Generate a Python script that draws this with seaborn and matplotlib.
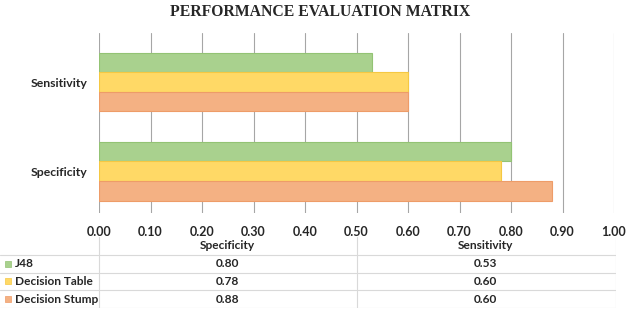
import matplotlib
matplotlib.use('Agg')
import matplotlib.pyplot as plt
import seaborn as sns
import pandas as pd
import numpy as np

metrics = ['Specificity', 'Sensitivity']
models = ['J48', 'Decision Table', 'Decision Stump']
j48 = [0.80, 0.53]
decision_table = [0.78, 0.60]
decision_stump = [0.88, 0.60]
colors = ['#A9D18E', '#FFD966', '#F4B183']
edge_colors = ['#93C374', '#F5C842', '#EE9C68']
x_ticks = [0.0, 0.1, 0.2, 0.3, 0.4, 0.5, 0.6, 0.7, 0.8, 0.9, 1.0]

values = {'J48': j48, 'Decision Table': decision_table, 'Decision Stump': decision_stump}
rows = []
for m in models:
    for k, metric in enumerate(metrics):
        rows.append({'metric': metric, 'model': m, 'value': values[m][k]})
df = pd.DataFrame(rows)

sns.set_style('white')
plt.rcParams['font.family'] = ['Lato', 'DejaVu Sans']

fig = plt.figure(figsize=(6.27, 3.09), dpi=100)
ax = fig.add_axes([99 / 627, 1 - 213 / 309, 515 / 627, 180 / 309])

sns.barplot(data=df, y='metric', x='value', hue='model', order=metrics[::-1],
            hue_order=models, palette=colors, width=0.66, orient='h', ax=ax,
            legend=False, saturation=1, zorder=3)
for i, cont in enumerate(ax.containers):
    for bar in cont:
        bar.set_edgecolor(edge_colors[i])
        bar.set_linewidth(0.8)

ax.set_xlim(0, 1.0)
ax.set_ylim(1.47, -0.55)
ax.set_xticks(x_ticks)
ax.set_xticklabels([f'{t:.2f}' for t in x_ticks], fontsize=9, fontweight='bold')
ax.tick_params(axis='x', length=0, pad=9)
ax.tick_params(axis='y', length=0, pad=8, labelsize=8.8)
for lab in ax.get_yticklabels():
    lab.set_fontweight('bold')
ax.set_xlabel('')
ax.set_ylabel('')
ax.grid(axis='x', color='#A6A6A6', linewidth=0.8, zorder=0)
for s in ax.spines.values():
    s.set_visible(False)

fig.text(320 / 627, 1 - 12 / 309, 'PERFORMANCE EVALUATION MATRIX', ha='center', va='center',
         fontsize=11.3, fontweight='bold', family='Liberation Serif')

# data table under the chart
tax = fig.add_axes([0, 1 - 308 / 309, 616 / 627, 71 / 309])
tax.set_xlim(-99 / 515, 517 / 515)
tax.set_ylim(4, 0)
tax.axis('off')
line_c = '#D9D9D9'
for y in [1, 2, 3, 4]:
    tax.plot([-99 / 515, 517 / 515], [y, y], color=line_c, lw=0.8)
for x in [0, 0.5, 517 / 515]:
    tax.plot([x, x], [0, 4], color=line_c, lw=0.8)
col_x = [0.25, 0.75]
table_metrics = ['Specificity', 'Sensitivity']
for k, metric in enumerate(table_metrics):
    tax.text(col_x[k], 0.5, metric, ha='center', va='center', fontsize=8.6, fontweight='bold')
for r, m in enumerate(models):
    y = r + 1.5
    tax.scatter([-91 / 515], [y], marker='s', s=16, color=colors[r], edgecolor=edge_colors[r], lw=0.5)
    tax.text(-84 / 515, y, m, ha='left', va='center', fontsize=8.6, fontweight='bold')
    for k in range(len(table_metrics)):
        tax.text(col_x[k], y, f'{values[m][metrics.index(table_metrics[k])]:.2f}',
                 ha='center', va='center', fontsize=8.6, fontweight='bold')

plt.savefig('out.png', dpi=100)
